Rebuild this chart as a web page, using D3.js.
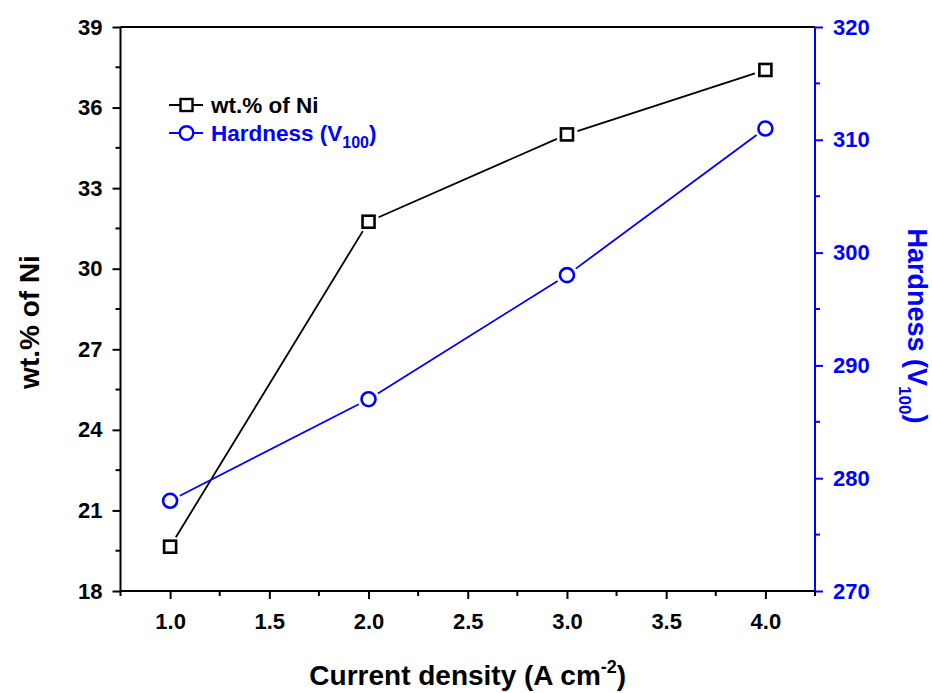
<!DOCTYPE html>
<html>
<head>
<meta charset="utf-8">
<script src="https://cdn.jsdelivr.net/npm/d3@7"></script>
<style>
  body { margin: 0; background: #fff; }
  svg text { font-family: "Liberation Sans", Arial, sans-serif; font-weight: bold; }
</style>
</head>
<body>
<div class="graph"></div>
<script>
// data
var currentDensity = [1.0, 2.0, 3.0, 4.0]
var niContent = [19.65, 31.75, 35.0, 37.4]
var hardness = [278, 287, 298, 311]
var xTicks = [1.0, 1.5, 2.0, 2.5, 3.0, 3.5, 4.0]
var leftTicks = [18, 21, 24, 27, 30, 33, 36, 39]
var rightTicks = [270, 280, 290, 300, 310, 320]

const w = 932
const h = 693
const pLeft = 120.5, pRight = 815, pTop = 27, pBottom = 591
const blue = "#0000ff"

const svg = d3.select(".graph")
  .append("svg")
  .attr("width", w)
  .attr("height", h)
  .style("background", "#fff")

const x = d3.scaleLinear().domain([0.75, 4.25]).range([pLeft, pRight])
const yL = d3.scaleLinear().domain([18, 39]).range([pBottom, pTop])
const yR = d3.scaleLinear().domain([270, 320]).range([pBottom, pTop])

// top border
svg.append("line")
  .attr("x1", pLeft).attr("x2", pRight)
  .attr("y1", pTop).attr("y2", pTop)
  .attr("stroke", "#000").attr("stroke-width", 2)

// bottom axis
const xAxis = svg.append("g")
  .attr("transform", "translate(0," + pBottom + ")")
  .call(d3.axisBottom(x).tickValues(xTicks).tickFormat(d3.format(".1f")).tickSize(8).tickPadding(14))
xAxis.selectAll("text").style("font-size", "22px").attr("fill", "#000")
xAxis.append("g").selectAll("line")
  .data(d3.range(0.75, 4.26, 0.5))
  .enter().append("line")
  .attr("x1", d => x(d)).attr("x2", d => x(d))
  .attr("y1", 0).attr("y2", 5)
  .attr("stroke", "#000").attr("stroke-width", 2)

// left axis
const yAxisL = svg.append("g")
  .attr("transform", "translate(" + pLeft + ",0)")
  .call(d3.axisLeft(yL).tickValues(leftTicks).tickSize(8).tickPadding(10))
yAxisL.selectAll("text").style("font-size", "22px").attr("fill", "#000")
yAxisL.append("g").selectAll("line")
  .data(d3.range(19.5, 39, 3))
  .enter().append("line")
  .attr("y1", d => yL(d)).attr("y2", d => yL(d))
  .attr("x1", 0).attr("x2", -5)
  .attr("stroke", "#000").attr("stroke-width", 2)

// right axis
const yAxisR = svg.append("g")
  .attr("transform", "translate(" + pRight + ",0)")
  .call(d3.axisRight(yR).tickValues(rightTicks).tickSize(8).tickPadding(10))
yAxisR.selectAll("text").style("font-size", "22px").attr("fill", blue)
yAxisR.append("g").selectAll("line")
  .data(d3.range(275, 320, 10))
  .enter().append("line")
  .attr("y1", d => yR(d)).attr("y2", d => yR(d))
  .attr("x1", 0).attr("x2", 5)
  .attr("stroke", blue).attr("stroke-width", 2)

xAxis.selectAll(".domain, .tick line").attr("stroke", "#000").attr("stroke-width", 2)
yAxisL.selectAll(".domain, .tick line").attr("stroke", "#000").attr("stroke-width", 2)
yAxisR.selectAll(".domain, .tick line").attr("stroke", blue).attr("stroke-width", 2)
xAxis.select(".domain").attr("d", "M" + pLeft + ",0H" + pRight)
yAxisL.select(".domain").attr("d", "M0," + pBottom + "V" + pTop)
yAxisR.select(".domain").attr("d", "M0," + pBottom + "V" + pTop)

// lines with small gaps at the symbols
function gapSegments(pts, gap) {
  var segs = []
  for (var i = 0; i < pts.length - 1; i++) {
    var a = pts[i], b = pts[i + 1]
    var dx = b[0] - a[0], dy = b[1] - a[1]
    var len = Math.sqrt(dx * dx + dy * dy)
    var ux = dx / len, uy = dy / len
    segs.push([a[0] + ux * gap, a[1] + uy * gap, b[0] - ux * gap, b[1] - uy * gap])
  }
  return segs
}

var niPts = currentDensity.map((d, i) => [x(d), yL(niContent[i])])
var hPts = currentDensity.map((d, i) => [x(d), yR(hardness[i])])

svg.selectAll(".niseg")
  .data(gapSegments(niPts, 11))
  .enter().append("line")
  .attr("class", "niseg")
  .attr("x1", d => d[0]).attr("y1", d => d[1])
  .attr("x2", d => d[2]).attr("y2", d => d[3])
  .attr("stroke", "#000").attr("stroke-width", 1.8)

svg.selectAll(".hseg")
  .data(gapSegments(hPts, 11))
  .enter().append("line")
  .attr("class", "hseg")
  .attr("x1", d => d[0]).attr("y1", d => d[1])
  .attr("x2", d => d[2]).attr("y2", d => d[3])
  .attr("stroke", blue).attr("stroke-width", 1.8)

svg.selectAll(".sq")
  .data(niPts)
  .enter().append("rect")
  .attr("class", "sq")
  .attr("x", d => d[0] - 6).attr("y", d => d[1] - 6)
  .attr("width", 12).attr("height", 12)
  .attr("fill", "none").attr("stroke", "#000").attr("stroke-width", 2.6)

svg.selectAll(".ci")
  .data(hPts)
  .enter().append("circle")
  .attr("class", "ci")
  .attr("cx", d => d[0]).attr("cy", d => d[1])
  .attr("r", 7)
  .attr("fill", "none").attr("stroke", blue).attr("stroke-width", 2.6)

// legend
const lg = svg.append("g")
lg.append("line").attr("x1", 169).attr("x2", 203).attr("y1", 105).attr("y2", 105)
  .attr("stroke", "#000").attr("stroke-width", 1.8)
lg.append("rect").attr("x", 180.5).attr("y", 99).attr("width", 12).attr("height", 12)
  .attr("fill", "#fff").attr("stroke", "#000").attr("stroke-width", 2.4)
lg.append("text").attr("x", 211).attr("y", 112.5).style("font-size", "22.5px")
  .attr("fill", "#000").text("wt.% of Ni")
lg.append("line").attr("x1", 169).attr("x2", 203).attr("y1", 133).attr("y2", 133)
  .attr("stroke", blue).attr("stroke-width", 1.8)
lg.append("circle").attr("cx", 186.5).attr("cy", 133).attr("r", 6.8)
  .attr("fill", "#fff").attr("stroke", blue).attr("stroke-width", 2.4)
const lt = lg.append("text").attr("x", 211).attr("y", 140.5).style("font-size", "22.5px").attr("fill", blue)
lt.append("tspan").text("Hardness (V")
lt.append("tspan").attr("dy", 7).style("font-size", "16px").text("100")
lt.append("tspan").attr("dy", -7).text(")")

// axis titles
svg.append("text")
  .attr("transform", "translate(39,322) rotate(-90)")
  .attr("text-anchor", "middle")
  .style("font-size", "28px").attr("fill", "#000")
  .text("wt.% of Ni")

const rt = svg.append("text")
  .attr("transform", "translate(908,326) rotate(90)")
  .attr("text-anchor", "middle")
  .style("font-size", "27px").attr("fill", blue)
rt.append("tspan").text("Hardness (V")
rt.append("tspan").attr("dy", 9).style("font-size", "17px").text("100")
rt.append("tspan").attr("dy", -9).text(")")

const bt = svg.append("text")
  .attr("x", (pLeft + pRight) / 2).attr("y", 685)
  .attr("text-anchor", "middle")
  .style("font-size", "28px").attr("fill", "#000")
bt.append("tspan").text("Current density (A cm")
bt.append("tspan").attr("dy", -12).style("font-size", "18px").text("-2")
bt.append("tspan").attr("dy", 12).text(")")
</script>
</body>
</html>
